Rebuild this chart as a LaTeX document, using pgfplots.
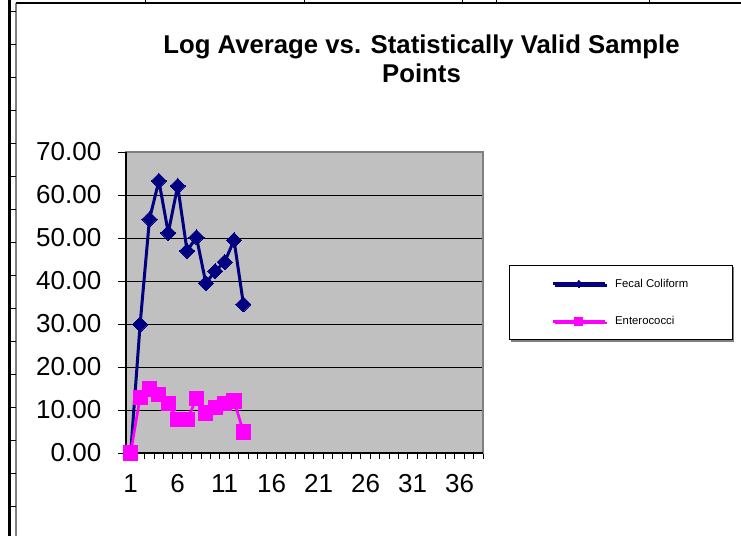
\documentclass[border=0pt]{standalone}
\usepackage{pgfplots}
\pgfplotsset{compat=1.18}
\usepackage{fontspec}
\setmainfont{Liberation Sans}
\usetikzlibrary{shadows}
\definecolor{navyc}{RGB}{0,0,128}
\definecolor{magc}{RGB}{255,0,255}
\definecolor{plotbg}{RGB}{192,192,192}
\definecolor{bordergray}{RGB}{128,128,128}
\begin{document}
\begin{tikzpicture}
\begin{scope}[x=0.75pt,y=-0.75pt]
\path[use as bounding box] (0,0) rectangle (741,536);
\draw[line width=2.25pt] (9,0) -- (9,536);
\draw[bordergray, line width=1.1pt] (16,3) -- (16,536);
\foreach \y in {11,44,...,506} \draw[line width=0.75pt] (9,\y) -- (16,\y);
\draw[line width=1.5pt] (16,3) -- (741,3);
\foreach \x in {145,304,462,496,649} \draw[line width=0.75pt] (\x,0) -- (\x,3);
\node[font=\bfseries\fontsize{19.3}{22}\selectfont, anchor=base] at (421.5,53.5) {Log Average vs. Statistically Valid Sample};
\node[font=\bfseries\fontsize{19.3}{22}\selectfont, anchor=base] at (421.5,82) {Points};
\end{scope}
\begin{axis}[
  at={(94.5pt,-339.75pt)}, anchor=south west,
  scale only axis, width=267.75pt, height=225.75pt,
  xmin=0.5, xmax=38.5, ymin=0, ymax=70,
  axis background/.style={fill=plotbg},
  axis line style={draw=bordergray, line width=1.1pt},
  ytick={0,10,...,70},
  xtick={1,6,...,36},
  minor xtick={0.5,1.5,...,38.5},
  tick align=outside,
  xtick pos=bottom, ytick pos=left,
  major tick length=6pt,
  x tick style={draw=none},
  minor x tick style={draw=black, line width=0.75pt},
  minor tick length=4.5pt,
  y tick style={draw=black, line width=0.75pt},
  ymajorgrids,
  grid style={draw=black, line width=0.75pt},
  tick label style={font=\fontsize{19.5}{21}\selectfont},
  yticklabel style={xshift=-9pt},
  xticklabel style={yshift=-6.5pt},
  /pgf/number format/assume math mode=true,
  yticklabel={\pgfmathprintnumber[fixed,fixed zerofill,precision=2]{\tick}},
  xticklabel={\pgfmathprintnumber[assume math mode=true]{\tick}},
  legend style={
    at={(1.0728,0.6246)}, anchor=north west,
    draw=black, line width=0.75pt, fill=white,
    font=\fontsize{8.5}{10}\selectfont,
    inner xsep=31.5pt, inner ysep=8pt,
    row sep=16.5pt,
    cells={anchor=west},
    /tikz/every odd column/.append style={column sep=4.5pt},
    drop shadow={shadow xshift=1.2pt, shadow yshift=-1.2pt, fill=bordergray, opacity=1},
  },
  legend image code/.code={\draw[mark repeat=2,mark phase=2] plot coordinates {(0pt,0pt) (19.5pt,0pt) (39pt,0pt)};},
  clip=false,
]
\addplot[navyc, line width=2.25pt, mark=square*, mark size=4pt,
  mark options={rotate=45, fill=navyc, draw=navyc, line width=0pt},
  legend image post style={mark size=2pt}]
  coordinates {(1,0) (2,29.9) (3,54.4) (4,63.3) (5,51.2) (6,62.1) (7,47.0) (8,50.2) (9,39.5) (10,42.3) (11,44.4) (12,49.5) (13,34.6)};
\addlegendentry{Fecal Coliform}
\addplot[magc, line width=2pt, mark=square*, mark size=5.3pt,
  mark options={fill=magc, draw=magc, line width=0pt},
  legend image post style={mark size=3pt}]
  coordinates {(1,0) (2,13.0) (3,14.9) (4,13.7) (5,11.6) (6,7.7) (7,7.7) (8,12.6) (9,9.3) (10,10.5) (11,11.6) (12,12.1) (13,4.9)};
\addlegendentry{Enterococci}
\draw[black, line width=1.5pt] (rel axis cs:0,0) -- (rel axis cs:0,1);
\draw[black, line width=1.1pt] (rel axis cs:0,0) -- (rel axis cs:1,0);
\end{axis}
\end{tikzpicture}
\end{document}
